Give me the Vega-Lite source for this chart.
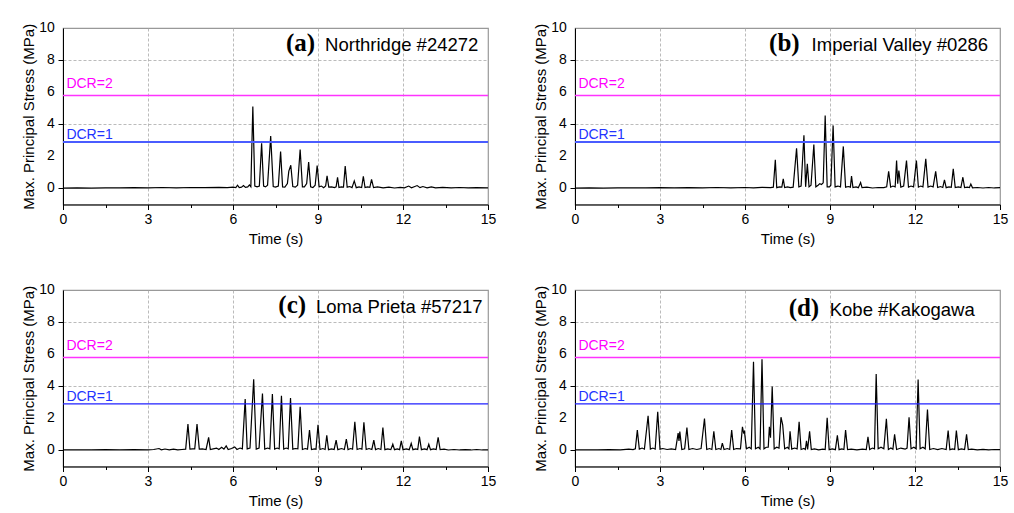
{
  "$schema": "https://vega.github.io/schema/vega-lite/v6.json",
  "background": "white",
  "padding": {"left": 20, "top": 20, "right": 5, "bottom": 5},
  "bounds": "flush",
  "columns": 2,
  "spacing": {"row": 85, "column": 87},
  "datasets": {
    "yticks": [{"v":0},{"v":2},{"v":4},{"v":6},{"v":8},{"v":10}],
    "a": [
      {"t":0,"v":0.02},{"t":0.5,"v":0.03},{"t":1,"v":0.02},{"t":1.5,"v":0.04},{"t":2,"v":0.03},{"t":2.5,"v":0.05},{"t":3,"v":0.04},{"t":3.5,"v":0.06},{"t":4,"v":0.04},{"t":4.5,"v":0.06},{"t":5,"v":0.05},{"t":5.5,"v":0.07},{"t":5.8,"v":0.05},{"t":6,"v":0.08},{"t":6.1,"v":0.05},{"t":6.16,"v":0.2},{"t":6.22,"v":0.06},{"t":6.3,"v":0.08},{"t":6.37,"v":0.18},{"t":6.44,"v":0.07},{"t":6.52,"v":0.1},{"t":6.58,"v":0.22},{"t":6.63,"v":0.1},{"t":6.7,"v":5.1},{"t":6.77,"v":0.15},{"t":6.85,"v":0.1},{"t":6.93,"v":0.15},{"t":7.01,"v":2.82},{"t":7.08,"v":0.15},{"t":7.15,"v":0.1},{"t":7.22,"v":0.2},{"t":7.33,"v":3.26},{"t":7.42,"v":0.12},{"t":7.5,"v":0.08},{"t":7.6,"v":0.15},{"t":7.68,"v":2.3},{"t":7.75,"v":0.1},{"t":7.83,"v":0.08},{"t":7.92,"v":0.3},{"t":7.97,"v":1.08},{"t":8.04,"v":1.45},{"t":8.11,"v":0.12},{"t":8.2,"v":0.08},{"t":8.28,"v":0.2},{"t":8.37,"v":2.43},{"t":8.45,"v":0.1},{"t":8.52,"v":0.1},{"t":8.6,"v":0.3},{"t":8.67,"v":1.64},{"t":8.74,"v":0.1},{"t":8.82,"v":0.05},{"t":8.9,"v":0.2},{"t":8.97,"v":1.43},{"t":9.04,"v":0.1},{"t":9.12,"v":0.15},{"t":9.2,"v":0.05},{"t":9.27,"v":0.15},{"t":9.32,"v":0.79},{"t":9.38,"v":0.08},{"t":9.48,"v":0.1},{"t":9.58,"v":0.05},{"t":9.64,"v":0.1},{"t":9.69,"v":0.7},{"t":9.74,"v":0.06},{"t":9.82,"v":0.1},{"t":9.9,"v":0.08},{"t":9.96,"v":1.39},{"t":10.03,"v":0.08},{"t":10.12,"v":0.12},{"t":10.2,"v":0.05},{"t":10.28,"v":0.47},{"t":10.35,"v":0.05},{"t":10.45,"v":0.1},{"t":10.54,"v":0.06},{"t":10.6,"v":0.76},{"t":10.66,"v":0.06},{"t":10.75,"v":0.1},{"t":10.83,"v":0.07},{"t":10.89,"v":0.56},{"t":10.96,"v":0.05},{"t":11.1,"v":0.1},{"t":11.3,"v":0.04},{"t":11.5,"v":0.08},{"t":11.7,"v":0.03},{"t":11.9,"v":0.07},{"t":12.05,"v":0.04},{"t":12.2,"v":0.15},{"t":12.3,"v":0.04},{"t":12.5,"v":0.18},{"t":12.6,"v":0.05},{"t":12.7,"v":0.12},{"t":12.85,"v":0.04},{"t":13,"v":0.1},{"t":13.15,"v":0.04},{"t":13.4,"v":0.07},{"t":13.7,"v":0.04},{"t":14,"v":0.06},{"t":14.3,"v":0.03},{"t":14.6,"v":0.05},{"t":15,"v":0.04}
    ],
    "b": [
      {"t":0,"v":0.02},{"t":0.5,"v":0.03},{"t":1,"v":0.02},{"t":1.5,"v":0.04},{"t":2,"v":0.03},{"t":2.5,"v":0.04},{"t":3,"v":0.05},{"t":3.5,"v":0.03},{"t":4,"v":0.05},{"t":4.5,"v":0.04},{"t":5,"v":0.06},{"t":5.5,"v":0.04},{"t":6,"v":0.06},{"t":6.3,"v":0.04},{"t":6.6,"v":0.07},{"t":6.9,"v":0.05},{"t":7,"v":0.08},{"t":7.07,"v":1.78},{"t":7.12,"v":0.05},{"t":7.22,"v":0.1},{"t":7.3,"v":0.08},{"t":7.35,"v":0.6},{"t":7.4,"v":0.06},{"t":7.5,"v":0.1},{"t":7.6,"v":0.05},{"t":7.7,"v":0.08},{"t":7.82,"v":2.51},{"t":7.9,"v":0.1},{"t":7.98,"v":0.15},{"t":8.08,"v":3.32},{"t":8.14,"v":0.1},{"t":8.2,"v":1.53},{"t":8.26,"v":0.1},{"t":8.33,"v":0.2},{"t":8.43,"v":2.74},{"t":8.5,"v":0.1},{"t":8.58,"v":0.2},{"t":8.64,"v":0.3},{"t":8.7,"v":0.25},{"t":8.76,"v":0.35},{"t":8.83,"v":4.55},{"t":8.9,"v":0.1},{"t":8.98,"v":0.1},{"t":9.03,"v":0.2},{"t":9.11,"v":3.93},{"t":9.18,"v":0.1},{"t":9.28,"v":0.15},{"t":9.37,"v":0.1},{"t":9.47,"v":2.62},{"t":9.55,"v":0.08},{"t":9.65,"v":0.12},{"t":9.72,"v":0.08},{"t":9.76,"v":0.77},{"t":9.81,"v":0.06},{"t":9.92,"v":0.1},{"t":10,"v":0.05},{"t":10.08,"v":0.37},{"t":10.13,"v":0.05},{"t":10.3,"v":0.08},{"t":10.5,"v":0.03},{"t":10.7,"v":0.06},{"t":10.9,"v":0.05},{"t":11,"v":0.1},{"t":11.07,"v":1.06},{"t":11.14,"v":0.08},{"t":11.22,"v":0.15},{"t":11.3,"v":0.1},{"t":11.35,"v":1.74},{"t":11.39,"v":0.3},{"t":11.43,"v":1.12},{"t":11.5,"v":0.08},{"t":11.6,"v":0.15},{"t":11.7,"v":1.74},{"t":11.77,"v":0.08},{"t":11.86,"v":0.15},{"t":11.95,"v":0.1},{"t":12.05,"v":1.74},{"t":12.12,"v":0.08},{"t":12.2,"v":0.15},{"t":12.28,"v":0.1},{"t":12.38,"v":1.85},{"t":12.46,"v":0.08},{"t":12.55,"v":0.15},{"t":12.64,"v":0.1},{"t":12.73,"v":1.06},{"t":12.8,"v":0.06},{"t":12.9,"v":0.12},{"t":12.98,"v":0.06},{"t":13.04,"v":0.54},{"t":13.1,"v":0.05},{"t":13.2,"v":0.1},{"t":13.28,"v":0.07},{"t":13.35,"v":1.22},{"t":13.42,"v":0.06},{"t":13.53,"v":0.1},{"t":13.62,"v":0.06},{"t":13.69,"v":0.7},{"t":13.75,"v":0.06},{"t":13.85,"v":0.08},{"t":13.92,"v":0.05},{"t":13.97,"v":0.28},{"t":14.03,"v":0.04},{"t":14.2,"v":0.06},{"t":14.4,"v":0.03},{"t":14.6,"v":0.06},{"t":14.8,"v":0.03},{"t":15,"v":0.05}
    ],
    "c": [
      {"t":0,"v":0.03},{"t":0.5,"v":0.04},{"t":1,"v":0.03},{"t":1.5,"v":0.05},{"t":2,"v":0.04},{"t":2.5,"v":0.05},{"t":3,"v":0.04},{"t":3.2,"v":0.06},{"t":3.39,"v":0.12},{"t":3.47,"v":0.04},{"t":3.6,"v":0.09},{"t":3.75,"v":0.04},{"t":3.9,"v":0.08},{"t":4.05,"v":0.04},{"t":4.2,"v":0.06},{"t":4.33,"v":0.08},{"t":4.41,"v":1.64},{"t":4.48,"v":0.08},{"t":4.58,"v":0.1},{"t":4.65,"v":0.1},{"t":4.73,"v":1.64},{"t":4.81,"v":0.08},{"t":4.92,"v":0.1},{"t":5.05,"v":0.06},{"t":5.14,"v":0.81},{"t":5.2,"v":0.06},{"t":5.3,"v":0.1},{"t":5.42,"v":0.15},{"t":5.5,"v":0.06},{"t":5.6,"v":0.2},{"t":5.68,"v":0.08},{"t":5.76,"v":0.28},{"t":5.83,"v":0.06},{"t":5.95,"v":0.12},{"t":6.06,"v":0.22},{"t":6.14,"v":0.06},{"t":6.25,"v":0.15},{"t":6.33,"v":0.1},{"t":6.43,"v":3.2},{"t":6.5,"v":0.1},{"t":6.6,"v":0.15},{"t":6.73,"v":4.44},{"t":6.82,"v":0.08},{"t":6.92,"v":0.15},{"t":7.04,"v":3.55},{"t":7.12,"v":0.08},{"t":7.22,"v":0.15},{"t":7.3,"v":0.1},{"t":7.39,"v":3.51},{"t":7.47,"v":0.08},{"t":7.56,"v":0.15},{"t":7.63,"v":0.1},{"t":7.71,"v":3.4},{"t":7.79,"v":0.08},{"t":7.88,"v":0.15},{"t":7.95,"v":0.1},{"t":8.03,"v":3.26},{"t":8.11,"v":0.08},{"t":8.2,"v":0.12},{"t":8.29,"v":0.1},{"t":8.37,"v":2.72},{"t":8.45,"v":0.06},{"t":8.55,"v":0.12},{"t":8.63,"v":0.08},{"t":8.7,"v":1.27},{"t":8.77,"v":0.06},{"t":8.87,"v":0.1},{"t":8.93,"v":0.08},{"t":9,"v":1.6},{"t":9.07,"v":0.06},{"t":9.17,"v":0.12},{"t":9.25,"v":0.06},{"t":9.31,"v":0.95},{"t":9.37,"v":0.05},{"t":9.48,"v":0.1},{"t":9.57,"v":0.06},{"t":9.64,"v":0.64},{"t":9.7,"v":0.05},{"t":9.83,"v":0.12},{"t":9.93,"v":0.06},{"t":10,"v":0.71},{"t":10.06,"v":0.05},{"t":10.15,"v":0.12},{"t":10.22,"v":0.08},{"t":10.3,"v":1.78},{"t":10.38,"v":0.06},{"t":10.48,"v":0.12},{"t":10.55,"v":0.08},{"t":10.62,"v":1.76},{"t":10.7,"v":0.06},{"t":10.8,"v":0.12},{"t":10.9,"v":0.06},{"t":10.97,"v":0.64},{"t":11.03,"v":0.05},{"t":11.13,"v":0.12},{"t":11.22,"v":0.06},{"t":11.29,"v":1.43},{"t":11.36,"v":0.05},{"t":11.46,"v":0.1},{"t":11.57,"v":0.05},{"t":11.64,"v":0.39},{"t":11.7,"v":0.05},{"t":11.8,"v":0.1},{"t":11.88,"v":0.05},{"t":11.94,"v":0.6},{"t":12,"v":0.05},{"t":12.12,"v":0.1},{"t":12.22,"v":0.05},{"t":12.29,"v":0.44},{"t":12.35,"v":0.05},{"t":12.45,"v":0.1},{"t":12.52,"v":0.06},{"t":12.58,"v":0.87},{"t":12.65,"v":0.05},{"t":12.76,"v":0.1},{"t":12.85,"v":0.05},{"t":12.91,"v":0.39},{"t":12.97,"v":0.05},{"t":13.08,"v":0.1},{"t":13.17,"v":0.06},{"t":13.24,"v":0.81},{"t":13.31,"v":0.05},{"t":13.45,"v":0.08},{"t":13.6,"v":0.03},{"t":13.8,"v":0.06},{"t":14,"v":0.03},{"t":14.2,"v":0.05},{"t":14.4,"v":0.03},{"t":14.6,"v":0.06},{"t":14.8,"v":0.03},{"t":15,"v":0.04}
    ],
    "d": [
      {"t":0,"v":0.03},{"t":0.4,"v":0.04},{"t":0.8,"v":0.03},{"t":1.2,"v":0.05},{"t":1.6,"v":0.04},{"t":1.9,"v":0.08},{"t":2.05,"v":0.05},{"t":2.13,"v":0.1},{"t":2.2,"v":1.27},{"t":2.27,"v":0.08},{"t":2.37,"v":0.15},{"t":2.45,"v":0.08},{"t":2.58,"v":2.16},{"t":2.66,"v":0.08},{"t":2.75,"v":0.15},{"t":2.83,"v":0.08},{"t":2.92,"v":2.41},{"t":3,"v":0.08},{"t":3.1,"v":0.12},{"t":3.25,"v":0.06},{"t":3.4,"v":0.1},{"t":3.55,"v":0.06},{"t":3.64,"v":1.08},{"t":3.67,"v":0.6},{"t":3.7,"v":1.18},{"t":3.77,"v":0.06},{"t":3.87,"v":0.1},{"t":3.95,"v":1.43},{"t":4.02,"v":0.06},{"t":4.15,"v":0.12},{"t":4.3,"v":0.06},{"t":4.45,"v":0.12},{"t":4.57,"v":1.99},{"t":4.65,"v":0.06},{"t":4.75,"v":0.12},{"t":4.83,"v":0.06},{"t":4.9,"v":1.2},{"t":4.97,"v":0.06},{"t":5.08,"v":0.12},{"t":5.15,"v":0.06},{"t":5.2,"v":0.46},{"t":5.26,"v":0.06},{"t":5.38,"v":0.12},{"t":5.46,"v":0.06},{"t":5.53,"v":1.27},{"t":5.6,"v":0.06},{"t":5.7,"v":0.12},{"t":5.84,"v":0.1},{"t":5.91,"v":1.47},{"t":5.95,"v":1.1},{"t":5.98,"v":1.18},{"t":6.05,"v":0.1},{"t":6.15,"v":0.2},{"t":6.22,"v":0.1},{"t":6.3,"v":5.52},{"t":6.37,"v":0.1},{"t":6.47,"v":0.2},{"t":6.53,"v":0.1},{"t":6.6,"v":5.68},{"t":6.67,"v":0.1},{"t":6.75,"v":0.2},{"t":6.82,"v":0.2},{"t":6.86,"v":1.47},{"t":6.9,"v":0.8},{"t":6.96,"v":3.98},{"t":7.03,"v":0.1},{"t":7.12,"v":0.2},{"t":7.2,"v":0.15},{"t":7.27,"v":2.07},{"t":7.33,"v":1.6},{"t":7.4,"v":0.1},{"t":7.5,"v":0.2},{"t":7.55,"v":0.1},{"t":7.59,"v":1.2},{"t":7.65,"v":0.08},{"t":7.75,"v":0.15},{"t":7.84,"v":0.1},{"t":7.91,"v":1.78},{"t":7.98,"v":0.06},{"t":8.08,"v":0.12},{"t":8.13,"v":0.06},{"t":8.17,"v":0.6},{"t":8.21,"v":0.06},{"t":8.28,"v":1.2},{"t":8.34,"v":0.06},{"t":8.45,"v":0.1},{"t":8.6,"v":0.04},{"t":8.75,"v":0.08},{"t":8.83,"v":0.06},{"t":8.9,"v":2.03},{"t":8.97,"v":0.05},{"t":9.08,"v":0.1},{"t":9.19,"v":0.05},{"t":9.26,"v":0.95},{"t":9.32,"v":0.05},{"t":9.42,"v":0.1},{"t":9.49,"v":0.06},{"t":9.55,"v":1.27},{"t":9.62,"v":0.05},{"t":9.75,"v":0.08},{"t":9.95,"v":0.04},{"t":10.15,"v":0.08},{"t":10.28,"v":0.06},{"t":10.34,"v":0.85},{"t":10.4,"v":0.06},{"t":10.5,"v":0.15},{"t":10.57,"v":0.1},{"t":10.63,"v":4.77},{"t":10.7,"v":0.1},{"t":10.8,"v":0.2},{"t":10.9,"v":0.1},{"t":10.99,"v":1.97},{"t":11.06,"v":0.06},{"t":11.15,"v":0.15},{"t":11.22,"v":0.08},{"t":11.28,"v":1},{"t":11.35,"v":0.06},{"t":11.5,"v":0.15},{"t":11.65,"v":0.08},{"t":11.72,"v":0.15},{"t":11.79,"v":2.07},{"t":11.86,"v":0.1},{"t":11.96,"v":0.2},{"t":12.04,"v":0.1},{"t":12.11,"v":4.42},{"t":12.18,"v":0.1},{"t":12.28,"v":0.2},{"t":12.36,"v":0.1},{"t":12.44,"v":2.55},{"t":12.52,"v":0.06},{"t":12.65,"v":0.12},{"t":12.8,"v":0.05},{"t":12.95,"v":0.12},{"t":13.1,"v":0.06},{"t":13.17,"v":1.24},{"t":13.23,"v":0.05},{"t":13.33,"v":0.1},{"t":13.4,"v":0.06},{"t":13.46,"v":1.24},{"t":13.53,"v":0.05},{"t":13.64,"v":0.1},{"t":13.75,"v":0.06},{"t":13.82,"v":1},{"t":13.88,"v":0.05},{"t":14,"v":0.08},{"t":14.2,"v":0.04},{"t":14.4,"v":0.07},{"t":14.6,"v":0.04},{"t":14.8,"v":0.06},{"t":15,"v":0.05}
    ]
  },
  "concat": [
    {
      "width": 425, "height": 176.5,
      "layer": [
        {"data": {"name": "a"}, "mark": {"type": "line", "color": "black", "strokeWidth": 1.2},
         "encoding": {
           "x": {"field": "t", "type": "quantitative", "scale": {"domain": [0, 15], "nice": false, "zero": false},
                 "axis": {"title": "Time (s)", "values": [0,1.5,3,4.5,6,7.5,9,10.5,12,13.5,15], "labelExpr": "datum.value % 3 == 0 ? datum.label : ''", "labelFlush": false, "tickSize": {"condition": {"test": "datum.value % 3 != 0", "value": 3}, "value": 5}, "gridOpacity": {"condition": {"test": "datum.value % 3 != 0 || datum.value == 0 || datum.value == 15", "value": 0}, "value": 1}}},
           "y": {"field": "v", "type": "quantitative", "scale": {"domain": [-1, 10], "nice": false, "zero": false},
                 "axis": {"title": "Max. Principal Stress (MPa)", "values": [0,1,2,3,4,5,6,7,8,9,10], "labels": false, "titlePadding": 21, "tickSize": {"condition": {"test": "datum.value % 2 != 0", "value": 3}, "value": 5}, "gridOpacity": {"condition": {"test": "datum.value % 2 != 0 || datum.value == 0 || datum.value == 10", "value": 0}, "value": 1}}}
         }},
        {"data": {"name": "yticks"}, "mark": {"type": "text", "align": "right", "baseline": "middle", "font": "Liberation Sans", "fontSize": 14, "color": "black"}, "encoding": {"x": {"datum": -0.29}, "y": {"field": "v", "type": "quantitative"}, "text": {"field": "v", "type": "quantitative"}}},
        {"data": {"values": [{}]}, "mark": {"type": "rule", "color": "#ff33ff", "strokeWidth": 1.5}, "encoding": {"y": {"datum": 5.8}}},
        {"data": {"values": [{}]}, "mark": {"type": "rule", "color": "#4a5cff", "strokeWidth": 2}, "encoding": {"y": {"datum": 2.9}}},
        {"data": {"values": [{}]}, "mark": {"type": "text", "text": "DCR=2", "color": "#ff00ff", "align": "left", "baseline": "alphabetic", "font": "Liberation Sans", "fontSize": 14}, "encoding": {"x": {"datum": 0.12}, "y": {"datum": 6.28}}},
        {"data": {"values": [{}]}, "mark": {"type": "text", "text": "DCR=1", "color": "#2233ff", "align": "left", "baseline": "alphabetic", "font": "Liberation Sans", "fontSize": 14}, "encoding": {"x": {"datum": 0.12}, "y": {"datum": 3.1}}},
        {"data": {"values": [{}]}, "mark": {"type": "text", "text": "(a)", "color": "black", "align": "left", "baseline": "alphabetic", "font": "Liberation Serif", "fontWeight": "bold", "fontSize": 25}, "encoding": {"x": {"datum": 7.87}, "y": {"datum": 8.55}}},
        {"data": {"values": [{}]}, "mark": {"type": "text", "text": "Northridge #24272", "color": "black", "align": "left", "baseline": "alphabetic", "font": "Liberation Sans", "fontSize": 18.5}, "encoding": {"x": {"datum": 9.25}, "y": {"datum": 8.55}}}
      ]
    },
    {
      "width": 425, "height": 176.5,
      "layer": [
        {"data": {"name": "b"}, "mark": {"type": "line", "color": "black", "strokeWidth": 1.2},
         "encoding": {
           "x": {"field": "t", "type": "quantitative", "scale": {"domain": [0, 15], "nice": false, "zero": false},
                 "axis": {"title": "Time (s)", "values": [0,1.5,3,4.5,6,7.5,9,10.5,12,13.5,15], "labelExpr": "datum.value % 3 == 0 ? datum.label : ''", "labelFlush": false, "tickSize": {"condition": {"test": "datum.value % 3 != 0", "value": 3}, "value": 5}, "gridOpacity": {"condition": {"test": "datum.value % 3 != 0 || datum.value == 0 || datum.value == 15", "value": 0}, "value": 1}}},
           "y": {"field": "v", "type": "quantitative", "scale": {"domain": [-1, 10], "nice": false, "zero": false},
                 "axis": {"title": "Max. Principal Stress (MPa)", "values": [0,1,2,3,4,5,6,7,8,9,10], "labels": false, "titlePadding": 21, "tickSize": {"condition": {"test": "datum.value % 2 != 0", "value": 3}, "value": 5}, "gridOpacity": {"condition": {"test": "datum.value % 2 != 0 || datum.value == 0 || datum.value == 10", "value": 0}, "value": 1}}}
         }},
        {"data": {"name": "yticks"}, "mark": {"type": "text", "align": "right", "baseline": "middle", "font": "Liberation Sans", "fontSize": 14, "color": "black"}, "encoding": {"x": {"datum": -0.29}, "y": {"field": "v", "type": "quantitative"}, "text": {"field": "v", "type": "quantitative"}}},
        {"data": {"values": [{}]}, "mark": {"type": "rule", "color": "#ff33ff", "strokeWidth": 1.5}, "encoding": {"y": {"datum": 5.8}}},
        {"data": {"values": [{}]}, "mark": {"type": "rule", "color": "#4a5cff", "strokeWidth": 2}, "encoding": {"y": {"datum": 2.9}}},
        {"data": {"values": [{}]}, "mark": {"type": "text", "text": "DCR=2", "color": "#ff00ff", "align": "left", "baseline": "alphabetic", "font": "Liberation Sans", "fontSize": 14}, "encoding": {"x": {"datum": 0.12}, "y": {"datum": 6.28}}},
        {"data": {"values": [{}]}, "mark": {"type": "text", "text": "DCR=1", "color": "#2233ff", "align": "left", "baseline": "alphabetic", "font": "Liberation Sans", "fontSize": 14}, "encoding": {"x": {"datum": 0.12}, "y": {"datum": 3.1}}},
        {"data": {"values": [{}]}, "mark": {"type": "text", "text": "(b)", "color": "black", "align": "left", "baseline": "alphabetic", "font": "Liberation Serif", "fontWeight": "bold", "fontSize": 25}, "encoding": {"x": {"datum": 6.85}, "y": {"datum": 8.55}}},
        {"data": {"values": [{}]}, "mark": {"type": "text", "text": "Imperial Valley #0286", "color": "black", "align": "left", "baseline": "alphabetic", "font": "Liberation Sans", "fontSize": 18.5}, "encoding": {"x": {"datum": 8.35}, "y": {"datum": 8.55}}}
      ]
    },
    {
      "width": 425, "height": 176.5,
      "layer": [
        {"data": {"name": "c"}, "mark": {"type": "line", "color": "black", "strokeWidth": 1.2},
         "encoding": {
           "x": {"field": "t", "type": "quantitative", "scale": {"domain": [0, 15], "nice": false, "zero": false},
                 "axis": {"title": "Time (s)", "values": [0,1.5,3,4.5,6,7.5,9,10.5,12,13.5,15], "labelExpr": "datum.value % 3 == 0 ? datum.label : ''", "labelFlush": false, "tickSize": {"condition": {"test": "datum.value % 3 != 0", "value": 3}, "value": 5}, "gridOpacity": {"condition": {"test": "datum.value % 3 != 0 || datum.value == 0 || datum.value == 15", "value": 0}, "value": 1}}},
           "y": {"field": "v", "type": "quantitative", "scale": {"domain": [-1, 10], "nice": false, "zero": false},
                 "axis": {"title": "Max. Principal Stress (MPa)", "values": [0,1,2,3,4,5,6,7,8,9,10], "labels": false, "titlePadding": 21, "tickSize": {"condition": {"test": "datum.value % 2 != 0", "value": 3}, "value": 5}, "gridOpacity": {"condition": {"test": "datum.value % 2 != 0 || datum.value == 0 || datum.value == 10", "value": 0}, "value": 1}}}
         }},
        {"data": {"name": "yticks"}, "mark": {"type": "text", "align": "right", "baseline": "middle", "font": "Liberation Sans", "fontSize": 14, "color": "black"}, "encoding": {"x": {"datum": -0.29}, "y": {"field": "v", "type": "quantitative"}, "text": {"field": "v", "type": "quantitative"}}},
        {"data": {"values": [{}]}, "mark": {"type": "rule", "color": "#ff33ff", "strokeWidth": 1.5}, "encoding": {"y": {"datum": 5.8}}},
        {"data": {"values": [{}]}, "mark": {"type": "rule", "color": "#2020ff", "strokeWidth": 1.2}, "encoding": {"y": {"datum": 2.9}}},
        {"data": {"values": [{}]}, "mark": {"type": "text", "text": "DCR=2", "color": "#ff00ff", "align": "left", "baseline": "alphabetic", "font": "Liberation Sans", "fontSize": 14}, "encoding": {"x": {"datum": 0.12}, "y": {"datum": 6.28}}},
        {"data": {"values": [{}]}, "mark": {"type": "text", "text": "DCR=1", "color": "#2233ff", "align": "left", "baseline": "alphabetic", "font": "Liberation Sans", "fontSize": 14}, "encoding": {"x": {"datum": 0.12}, "y": {"datum": 3.1}}},
        {"data": {"values": [{}]}, "mark": {"type": "text", "text": "(c)", "color": "black", "align": "left", "baseline": "alphabetic", "font": "Liberation Serif", "fontWeight": "bold", "fontSize": 25}, "encoding": {"x": {"datum": 7.6}, "y": {"datum": 8.55}}},
        {"data": {"values": [{}]}, "mark": {"type": "text", "text": "Loma Prieta #57217", "color": "black", "align": "left", "baseline": "alphabetic", "font": "Liberation Sans", "fontSize": 18.5}, "encoding": {"x": {"datum": 8.93}, "y": {"datum": 8.55}}}
      ]
    },
    {
      "width": 425, "height": 176.5,
      "layer": [
        {"data": {"name": "d"}, "mark": {"type": "line", "color": "black", "strokeWidth": 1.2},
         "encoding": {
           "x": {"field": "t", "type": "quantitative", "scale": {"domain": [0, 15], "nice": false, "zero": false},
                 "axis": {"title": "Time (s)", "values": [0,1.5,3,4.5,6,7.5,9,10.5,12,13.5,15], "labelExpr": "datum.value % 3 == 0 ? datum.label : ''", "labelFlush": false, "tickSize": {"condition": {"test": "datum.value % 3 != 0", "value": 3}, "value": 5}, "gridOpacity": {"condition": {"test": "datum.value % 3 != 0 || datum.value == 0 || datum.value == 15", "value": 0}, "value": 1}}},
           "y": {"field": "v", "type": "quantitative", "scale": {"domain": [-1, 10], "nice": false, "zero": false},
                 "axis": {"title": "Max. Principal Stress (MPa)", "values": [0,1,2,3,4,5,6,7,8,9,10], "labels": false, "titlePadding": 21, "tickSize": {"condition": {"test": "datum.value % 2 != 0", "value": 3}, "value": 5}, "gridOpacity": {"condition": {"test": "datum.value % 2 != 0 || datum.value == 0 || datum.value == 10", "value": 0}, "value": 1}}}
         }},
        {"data": {"name": "yticks"}, "mark": {"type": "text", "align": "right", "baseline": "middle", "font": "Liberation Sans", "fontSize": 14, "color": "black"}, "encoding": {"x": {"datum": -0.29}, "y": {"field": "v", "type": "quantitative"}, "text": {"field": "v", "type": "quantitative"}}},
        {"data": {"values": [{}]}, "mark": {"type": "rule", "color": "#ff33ff", "strokeWidth": 1.5}, "encoding": {"y": {"datum": 5.8}}},
        {"data": {"values": [{}]}, "mark": {"type": "rule", "color": "#2020ff", "strokeWidth": 1.2}, "encoding": {"y": {"datum": 2.9}}},
        {"data": {"values": [{}]}, "mark": {"type": "text", "text": "DCR=2", "color": "#ff00ff", "align": "left", "baseline": "alphabetic", "font": "Liberation Sans", "fontSize": 14}, "encoding": {"x": {"datum": 0.12}, "y": {"datum": 6.28}}},
        {"data": {"values": [{}]}, "mark": {"type": "text", "text": "DCR=1", "color": "#2233ff", "align": "left", "baseline": "alphabetic", "font": "Liberation Sans", "fontSize": 14}, "encoding": {"x": {"datum": 0.12}, "y": {"datum": 3.1}}},
        {"data": {"values": [{}]}, "mark": {"type": "text", "text": "(d)", "color": "black", "align": "left", "baseline": "alphabetic", "font": "Liberation Serif", "fontWeight": "bold", "fontSize": 25}, "encoding": {"x": {"datum": 7.54}, "y": {"datum": 8.4}}},
        {"data": {"values": [{}]}, "mark": {"type": "text", "text": "Kobe #Kakogawa", "color": "black", "align": "left", "baseline": "alphabetic", "font": "Liberation Sans", "fontSize": 18.5}, "encoding": {"x": {"datum": 8.99}, "y": {"datum": 8.4}}}
      ]
    }
  ],
  "config": {
    "view": {"stroke": "#999999", "strokeWidth": 1.2},
    "axis": {
      "labelFont": "Liberation Sans", "labelFontSize": 14, "labelColor": "black",
      "titleFont": "Liberation Sans", "titleFontSize": 15, "titleFontWeight": "normal", "titleColor": "black",
      "domainColor": "black", "domainWidth": 1, "tickColor": "black", "tickWidth": 1, "tickSize": 5,
      "gridColor": "#aaaaaa", "gridDash": [3, 2], "gridWidth": 0.8,
      "labelPadding": 3, "titlePadding": 5, "labelFlush": false, "labelBound": false
    }
  }
}
